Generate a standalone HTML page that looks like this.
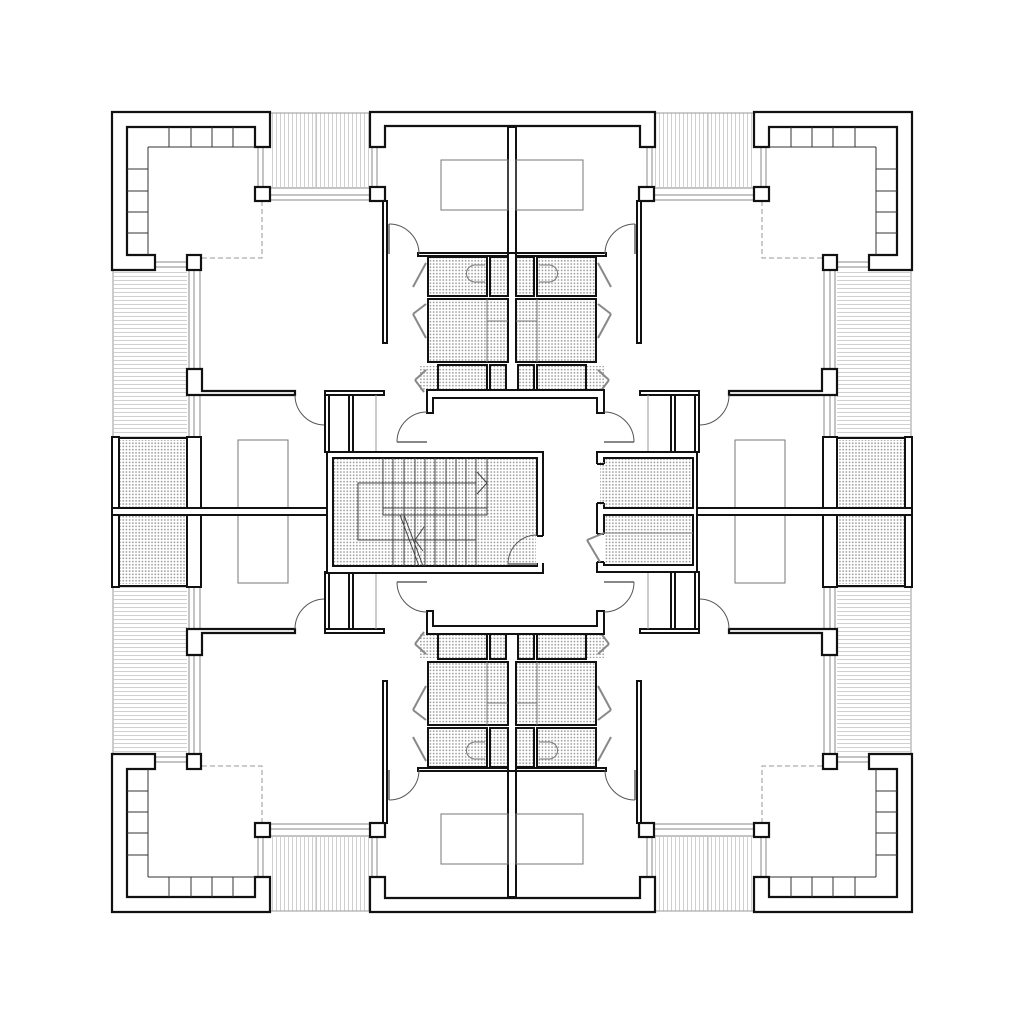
<!DOCTYPE html>
<html><head><meta charset="utf-8"><style>html,body{margin:0;padding:0;background:#fff}svg{display:block}</style></head>
<body>
<svg width="1024" height="1024" viewBox="0 0 1024 1024" xmlns="http://www.w3.org/2000/svg">
<defs>
<pattern id="dots" width="3.2" height="3.2" patternUnits="userSpaceOnUse"><rect x="0.9" y="0.9" width="1.5" height="1.5" fill="#999"/></pattern>
<pattern id="vh" width="4" height="10" patternUnits="userSpaceOnUse"><rect x="0" y="0" width="1" height="10" fill="#d0d0d0"/></pattern>
<pattern id="hh" width="10" height="4" patternUnits="userSpaceOnUse"><rect x="0" y="0" width="10" height="1" fill="#d0d0d0"/></pattern>
<g id="Q">
  <rect x="270" y="113" width="100" height="74" fill="url(#vh)"/>
  <line x1="270" y1="113" x2="370" y2="113" stroke="#999" stroke-width="1"/>
  <line x1="316" y1="113" x2="316" y2="187" stroke="#bbb" stroke-width="1"/>
  <line x1="270" y1="188" x2="370" y2="188" stroke="#888" stroke-width="1"/>
  <line x1="270" y1="195" x2="370" y2="195" stroke="#888" stroke-width="1"/>
  <line x1="270" y1="200" x2="370" y2="200" stroke="#888" stroke-width="1"/>
  <line x1="258" y1="147" x2="258" y2="187" stroke="#888"/><line x1="263" y1="147" x2="263" y2="187" stroke="#888"/>
  <line x1="372" y1="147" x2="372" y2="187" stroke="#888"/><line x1="377" y1="147" x2="377" y2="187" stroke="#888"/>
  <rect x="114" y="270" width="73" height="167" fill="url(#hh)"/>
  <line x1="113" y1="270" x2="113" y2="437" stroke="#999"/>
  <line x1="189" y1="270" x2="189" y2="437" stroke="#888"/>
  <line x1="194" y1="270" x2="194" y2="437" stroke="#888"/>
  <line x1="200" y1="270" x2="200" y2="437" stroke="#888"/>
  <line x1="155" y1="262" x2="187" y2="262" stroke="#888"/><line x1="155" y1="267" x2="187" y2="267" stroke="#888"/>
  <polygon points="112,112 270,112 270,147 255,147 255,127 127,127 127,255 155,255 155,270 112,270" fill="#fff" stroke="#111" stroke-width="2.2"/>
  <g stroke="#333" stroke-width="1">
    <line x1="148" y1="147" x2="148" y2="255"/><line x1="148" y1="147" x2="255" y2="147"/>
    <line x1="169" y1="127" x2="169" y2="147"/><line x1="191" y1="127" x2="191" y2="147"/><line x1="212" y1="127" x2="212" y2="147"/><line x1="233" y1="127" x2="233" y2="147"/>
    <line x1="127" y1="169" x2="148" y2="169"/><line x1="127" y1="191" x2="148" y2="191"/><line x1="127" y1="212" x2="148" y2="212"/><line x1="127" y1="233" x2="148" y2="233"/>
  </g>
  <polyline points="262,201 262,258 201,258" fill="none" stroke="#999" stroke-width="1" stroke-dasharray="5,3"/>
  <rect x="255" y="187" width="15" height="14" fill="#fff" stroke="#111" stroke-width="2.2"/>
  <rect x="370" y="187" width="15" height="14" fill="#fff" stroke="#111" stroke-width="2.2"/>
  <rect x="187" y="255" width="14" height="15" fill="#fff" stroke="#111" stroke-width="2.2"/>
  <polygon points="187,369 202,369 202,391 295,391 295,395 187,395" fill="#fff" stroke="#111" stroke-width="2.2"/>
  <line x1="325" y1="395" x2="325" y2="424" stroke="#888" stroke-width="2"/>
  <path d="M295,395 A30,30 0 0 0 325,425" fill="none" stroke="#555" stroke-width="1"/>
  <rect x="325" y="391" width="59" height="4" fill="#fff" stroke="#111" stroke-width="2"/>
  <rect x="325" y="395" width="4" height="57" fill="#fff" stroke="#111" stroke-width="2"/>
  <rect x="349" y="395" width="4" height="57" fill="#fff" stroke="#111" stroke-width="2"/>
  <line x1="376" y1="395" x2="376" y2="452" stroke="#999"/>
  <rect x="383" y="201" width="4" height="142" fill="#fff" stroke="#111" stroke-width="2"/>
  <rect x="119" y="440" width="68" height="68" fill="url(#dots)"/>
  <rect x="112" y="437" width="7" height="75" fill="#fff" stroke="#111" stroke-width="2"/>
  <rect x="187" y="437" width="14" height="75" fill="#fff" stroke="#111" stroke-width="2"/>
  <line x1="119" y1="438" x2="187" y2="438" stroke="#111" stroke-width="2"/>
</g>
<g id="TC">
  <polygon points="370,112 655,112 655,147 640,147 640,126 385,126 385,147 370,147" fill="#fff" stroke="#111" stroke-width="2.2"/>
  <rect x="508" y="127" width="8" height="126" fill="#fff" stroke="#111" stroke-width="2"/>
  <rect x="441" y="160" width="67" height="50" fill="none" stroke="#777" stroke-width="1"/>
  <rect x="516" y="160" width="67" height="50" fill="none" stroke="#777" stroke-width="1"/>
  <rect x="418" y="253" width="90" height="3" fill="#fff" stroke="#111" stroke-width="2"/>
  <rect x="516" y="253" width="90" height="3" fill="#fff" stroke="#111" stroke-width="2"/>
  <rect x="637" y="201" width="4" height="142" fill="#fff" stroke="#111" stroke-width="2"/>
  <line x1="389" y1="224" x2="389" y2="254" stroke="#888" stroke-width="2"/>
  <path d="M389,224 A30,30 0 0 1 419,254" fill="none" stroke="#555"/>
  <line x1="635" y1="224" x2="635" y2="254" stroke="#888" stroke-width="2"/>
  <path d="M635,224 A30,30 0 0 0 605,254" fill="none" stroke="#555"/>
  <g fill="url(#dots)" stroke="#111" stroke-width="2">
    <rect x="428" y="257" width="59" height="39"/><rect x="490" y="257" width="18" height="39"/>
    <rect x="428" y="299" width="80" height="63"/>
    <rect x="438" y="365" width="49" height="27"/><rect x="490" y="365" width="16" height="27"/>
    <rect x="537" y="257" width="59" height="39"/><rect x="516" y="257" width="18" height="39"/>
    <rect x="516" y="299" width="80" height="63"/>
    <rect x="537" y="365" width="49" height="27"/><rect x="518" y="365" width="16" height="27"/>
  </g>
  <rect x="420" y="366" width="17" height="25" fill="url(#dots)"/>
  <rect x="587" y="366" width="17" height="25" fill="url(#dots)"/>
  <g stroke="#777" stroke-width="1" fill="none">
    <line x1="487" y1="299" x2="487" y2="362"/><line x1="487" y1="321" x2="508" y2="321"/>
    <line x1="537" y1="299" x2="537" y2="362"/><line x1="516" y1="321" x2="537" y2="321"/>
    <path d="M485,265 L475,265 A8,8 0 0 0 475,282 L485,282"/>
    <path d="M539,265 L549,265 A8,8 0 0 1 549,282 L539,282"/>
  </g>
  <g stroke="#888" stroke-width="2">
    <line x1="426" y1="263" x2="413" y2="287"/><line x1="426" y1="304" x2="413" y2="314"/><line x1="413" y1="314" x2="426" y2="338"/>
    <line x1="426" y1="370" x2="415" y2="380"/><line x1="415" y1="380" x2="424" y2="392"/>
    <line x1="598" y1="263" x2="611" y2="287"/><line x1="598" y1="304" x2="611" y2="314"/><line x1="611" y1="314" x2="598" y2="338"/>
    <line x1="598" y1="370" x2="609" y2="380"/><line x1="609" y1="380" x2="600" y2="392"/>
  </g>
  <polygon points="427,390 604,390 604,413 597,413 597,398 433,398 433,413 427,413" fill="#fff" stroke="#111" stroke-width="2"/>
  <line x1="397" y1="442" x2="427" y2="442" stroke="#888" stroke-width="2"/>
  <path d="M397,442 A30,30 0 0 1 427,412" fill="none" stroke="#555"/>
  <line x1="604" y1="442" x2="634" y2="442" stroke="#888" stroke-width="2"/>
  <path d="M634,442 A30,30 0 0 0 604,412" fill="none" stroke="#555"/>
</g>
</defs>
<rect width="1024" height="1024" fill="#fff"/>
<use href="#Q"/>
<use href="#Q" transform="matrix(-1,0,0,1,1024,0)"/>
<use href="#Q" transform="matrix(1,0,0,-1,0,1024)"/>
<use href="#Q" transform="matrix(-1,0,0,-1,1024,1024)"/>
<use href="#TC"/>
<use href="#TC" transform="matrix(1,0,0,-1,0,1024)"/>
<rect x="238" y="440" width="50" height="143" fill="none" stroke="#777"/>
<rect x="735" y="440" width="50" height="143" fill="none" stroke="#777"/>
<rect x="112" y="508" width="215" height="7" fill="#fff" stroke="#111" stroke-width="2"/>
<rect x="697" y="508" width="215" height="7" fill="#fff" stroke="#111" stroke-width="2"/>
<rect x="327" y="452" width="216" height="121" fill="#fff" stroke="#111" stroke-width="2"/>
<rect x="333" y="458" width="204" height="108" fill="url(#dots)" stroke="#111" stroke-width="2"/>
<rect x="536" y="536" width="9" height="27" fill="#fff"/>
<line x1="537" y1="536" x2="543" y2="536" stroke="#111" stroke-width="2"/>
<line x1="508" y1="564" x2="537" y2="564" stroke="#888" stroke-width="2"/>
<path d="M508,564 A29,29 0 0 1 537,535" fill="none" stroke="#555"/>
<g stroke="#444" stroke-width="1" fill="none">
  <line x1="383" y1="458" x2="383" y2="508"/><line x1="393" y1="458" x2="393" y2="566"/><line x1="404" y1="458" x2="404" y2="566"/>
  <line x1="415" y1="458" x2="415" y2="566"/><line x1="425" y1="458" x2="425" y2="566"/><line x1="435" y1="458" x2="435" y2="566"/>
  <line x1="446" y1="458" x2="446" y2="566"/><line x1="456" y1="458" x2="456" y2="566"/><line x1="466" y1="458" x2="466" y2="566"/>
  <line x1="476" y1="458" x2="476" y2="566"/><line x1="487" y1="458" x2="487" y2="508"/>
  <rect x="383" y="508" width="104" height="7"/>
  <rect x="358" y="483" width="118" height="57"/>
  <polyline points="477,472 487,483 477,494"/>
  <line x1="400" y1="515" x2="419" y2="566"/><line x1="404" y1="515" x2="423" y2="566"/>
  <polyline points="424,527 415,540 423,551"/>
</g>
<rect x="597" y="452" width="100" height="120" fill="#fff" stroke="#111" stroke-width="2"/>
<rect x="604" y="458" width="89" height="50" fill="url(#dots)" stroke="#111" stroke-width="2"/>
<rect x="604" y="515" width="89" height="50" fill="url(#dots)" stroke="#111" stroke-width="2"/>
<rect x="596" y="464" width="9" height="39" fill="#fff"/>
<rect x="600" y="462" width="6" height="43" fill="url(#dots)"/>
<rect x="596" y="534" width="9" height="28" fill="#fff"/>
<line x1="597" y1="464" x2="604" y2="464" stroke="#111" stroke-width="2"/>
<line x1="597" y1="503" x2="604" y2="503" stroke="#111" stroke-width="2"/>
<line x1="597" y1="534" x2="604" y2="534" stroke="#111" stroke-width="2"/>
<line x1="597" y1="562" x2="604" y2="562" stroke="#111" stroke-width="2"/>
<line x1="604" y1="533" x2="587" y2="540" stroke="#888" stroke-width="2"/>
<line x1="587" y1="540" x2="600" y2="562" stroke="#888" stroke-width="2"/>
<line x1="604" y1="533" x2="693" y2="533" stroke="#777"/>
</svg>
</body></html>
